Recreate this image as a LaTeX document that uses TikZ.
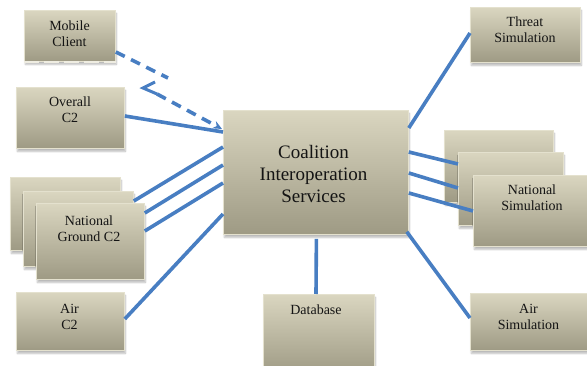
\documentclass[tikz,border=0pt]{standalone}
\usepackage{fontspec}
\setmainfont{Liberation Serif}
\usetikzlibrary{shadows.blur,arrows.meta,calc}
\definecolor{boxtop}{RGB}{218,214,192}
\definecolor{boxmid}{RGB}{206,201,178}
\definecolor{boxbot}{RGB}{158,154,132}
\definecolor{boxedge}{RGB}{228,225,206}
\definecolor{conn}{RGB}{72,126,194}
\definecolor{txt}{RGB}{20,20,20}
\tikzset{
  box/.style={draw=boxedge, line width=0.8pt, inner sep=0pt, anchor=north west,
    top color=boxtop, middle color=boxmid, bottom color=boxbot,
    blur shadow={shadow blur steps=6, shadow xshift=1pt, shadow yshift=-3pt, shadow opacity=28}},
  lbl/.style={align=center, text=txt, font=\fontsize{14}{16}\selectfont, inner sep=0pt},
  biglbl/.style={align=center, text=txt, font=\fontsize{19}{22}\selectfont, inner sep=0pt},
  link/.style={draw=conn, line width=3.6pt},
  dlink/.style={draw=conn, line width=3.6pt, dash pattern=on 10pt off 7pt}
}
\begin{document}
\begin{tikzpicture}[x=1pt,y=-1pt]
\useasboundingbox (0,0) rectangle (587,366);
% boxes
\node[box, minimum width=91pt, minimum height=51pt] (mc) at (24,10) {};
\draw[boxedge!60!white, line width=1.6pt, dash pattern=on 15pt off 5pt] (mc.south west) -- (mc.south east);
\node[box, minimum width=108pt, minimum height=61pt] (oc) at (16,87) {};
\node[box, minimum width=185pt, minimum height=124pt] (cis) at (223,110) {};
\node[box, minimum width=110pt, minimum height=73pt] (ng1) at (10,177) {};
\node[box, minimum width=110pt, minimum height=75pt] (ng2) at (23,191) {};
\node[box, minimum width=108pt, minimum height=76pt] (ng3) at (36,203) {};
\node[box, minimum width=108pt, minimum height=58pt] (air) at (16,292) {};
\node[box, minimum width=111pt, minimum height=80pt] (db) at (263,294) {};
\node[box, minimum width=110pt, minimum height=55pt] (ts) at (470,7) {};
\node[box, minimum width=109pt, minimum height=72pt] (ns1) at (444,130) {};
\node[box, minimum width=105pt, minimum height=73pt] (ns2) at (458,152) {};
\node[box, minimum width=120pt, minimum height=71pt] (ns3) at (473,175) {};
\node[box, minimum width=120pt, minimum height=57pt] (as) at (470,293) {};
% labels
\node[lbl] (mct) at (69.5,34) {Mobile\\Client};
\node[lbl] (oct) at (70,110) {Overall\\C2};
\node[biglbl] (cist) at (313.5,174) {Coalition\\Interoperation\\Services};
\node[lbl] (ngt) at (89,229) {National\\Ground C2};
\node[lbl] (airt) at (69.5,317) {Air\\C2};
\node[lbl] (dbt) at (316,310) {Database};
\node[lbl] (tst) at (525,30) {Threat\\Simulation};
\node[lbl] (nst) at (532,198) {National\\Simulation};
\node[lbl] (ast) at (528.5,317) {Air\\Simulation};
% connectors
\coordinate (d1) at (168,78);
\coordinate (d2) at (155,82);
\coordinate (d3) at (143,88);
\coordinate (d4) at (157,94);
\draw[dlink] ($(mc.north east)+(0,42)$) -- (d1);
\draw[link, line width=3pt] (d2) -- (d3) -- (d4);
\draw[dlink, -{Stealth[length=9pt,width=8pt]}] (d4) -- ($(cis.north west)+(-1,19)$);
\draw[link] ($(oc.north east)+(0,29)$) -- ($(cis.north west)+(0,22)$);
\draw[link] ($(ng2.north east)+(0,10)$) -- ($(cis.north west)+(0,37)$);
\draw[link] ($(ng3.north east)+(0,10)$) -- ($(cis.north west)+(0,55)$);
\draw[link] ($(ng3.north east)+(0,28)$) -- ($(cis.north west)+(0,73)$);
\draw[link] ($(air.north east)+(0,27)$) -- ($(cis.north west)+(0,104)$);
\draw[link] ($(cis.north east)+(0,18)$) -- ($(ts.north west)+(0,26)$);
\draw[link] ($(cis.north east)+(0,42)$) -- ($(ns2.north west)+(0,12)$);
\draw[link] ($(cis.north east)+(0,63)$) -- ($(ns2.north west)+(0,36)$);
\draw[link] ($(cis.north east)+(0,83)$) -- ($(ns3.north west)+(0,36)$);
\draw[link] ($(cis.south east)+(-2,-3)$) -- ($(as.north west)+(0,25)$);
\draw[link] ($(cis.south)+(0.5,4)$) -- ($(db.north west)+(53,0)$);
\end{tikzpicture}
\end{document}
